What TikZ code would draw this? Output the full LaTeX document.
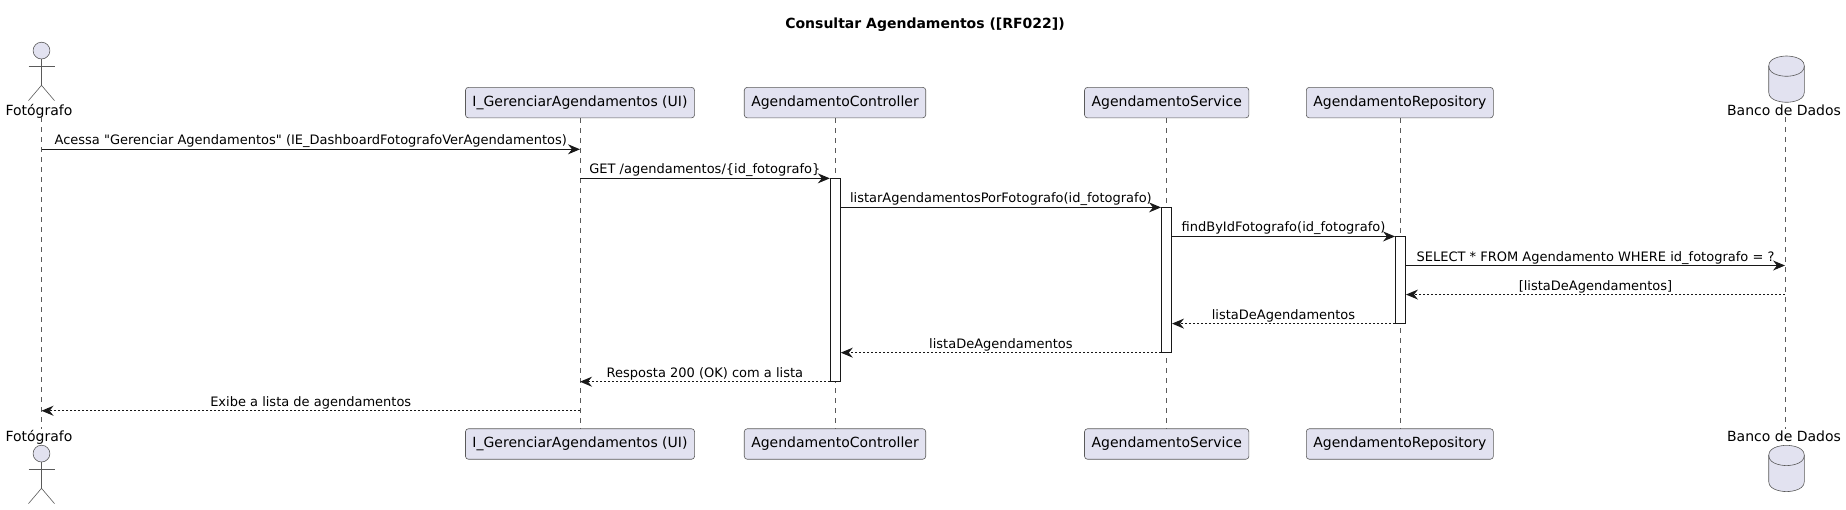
\documentclass[tikz,border=0pt]{standalone}
\usepackage{fontspec}
\setmainfont[Ligatures=TeXOff]{DejaVu Sans}
\usepackage{tikz}
\usetikzlibrary{arrows.meta}
\definecolor{partfill}{HTML}{E2E2F0}
\definecolor{partline}{HTML}{181818}
\definecolor{lifegrey}{HTML}{5A5A5A}
\tikzset{
  partbox/.style={draw=lifegrey,fill=partfill,line width=0.6pt,rounded corners=3pt,inner xsep=7pt,inner ysep=0pt,minimum height=30.5pt},
  figlabel/.style={inner sep=0pt,anchor=base},
  figline/.style={draw=lifegrey,line width=0.6pt},
  lifeln/.style={draw=lifegrey,line width=0.5pt,dash pattern=on 5pt off 5pt},
  actbar/.style={draw=partline,fill=white,line width=1pt,minimum width=10pt,inner sep=0pt},
  msgcall/.style={draw=partline,line width=1pt,-{Stealth[length=12pt,width=10pt,inset=4pt]}},
  msgback/.style={draw=partline,line width=1pt,dash pattern=on 2pt off 2pt,-{Stealth[length=12pt,width=10pt,inset=4pt]}},
  msgtext/.style={midway,anchor=base,yshift=4.5pt,inner sep=0pt,font=\fontsize{13}{16}\selectfont}
}
\newcommand{\actorfig}[2]{
  \draw[figline,fill=partfill] (#1,#2+8.3) circle (8.4pt);
  \draw[figline] (#1,#2+16.6) -- (#1,#2+43);
  \draw[figline] (#1-13,#2+24) -- (#1+13,#2+24);
  \draw[figline] (#1-13,#2+58.3) -- (#1,#2+43) -- (#1+13,#2+58.3);
}
\newcommand{\dbfig}[2]{
  \draw[figline,fill=partfill] (#1-17.8,#2+10) .. controls (#1-17.8,#2) and (#1,#2) .. (#1,#2) .. controls (#1,#2) and (#1+17.8,#2) .. (#1+17.8,#2+10)
    -- (#1+17.8,#2+36.3) .. controls (#1+17.8,#2+46.3) and (#1,#2+46.3) .. (#1,#2+46.3) .. controls (#1,#2+46.3) and (#1-17.8,#2+46.3) .. (#1-17.8,#2+36.3) -- cycle;
  \draw[figline] (#1-17.8,#2+10) .. controls (#1-17.8,#2+20.3) and (#1,#2+20.3) .. (#1,#2+20.3) .. controls (#1,#2+20.3) and (#1+17.8,#2+20.3) .. (#1+17.8,#2+10);
}
\begin{document}
\begin{tikzpicture}[x=1pt,y=-1pt,font=\fontsize{14}{17}\selectfont]
        \useasboundingbox (0,0) rectangle (1846,509);
        \node[font=\fontsize{14}{17}\selectfont\bfseries] (title) at (925,24.2) {Consultar Agendamentos ([RF022])};
        %actor and database figures
        \actorfig{41.5}{42.3}
        \actorfig{41.5}{445.3}
        \dbfig{1786.5}{56}
        \dbfig{1786.5}{445.3}
        %participants, top row
        \node[figlabel] (fotTop) at (39,115) {Fotógrafo};
        \node[partbox] (guiTop) at (580,102.6) {I\_GerenciarAgendamentos (UI)};
        \node[partbox] (ctrlTop) at (835,102.6) {AgendamentoController};
        \node[partbox] (servTop) at (1166.7,102.6) {AgendamentoService};
        \node[partbox] (repoTop) at (1399.8,102.6) {AgendamentoRepository};
        \node[figlabel] (dbTop) at (1784,115) {Banco de Dados};
        %participants, bottom row
        \node[figlabel] (fotBot) at (39,441.7) {Fotógrafo};
        \node[partbox] (guiBot) at (580,444) {I\_GerenciarAgendamentos (UI)};
        \node[partbox] (ctrlBot) at (835,444) {AgendamentoController};
        \node[partbox] (servBot) at (1166.7,444) {AgendamentoService};
        \node[partbox] (repoBot) at (1399.8,444) {AgendamentoRepository};
        \node[figlabel] (dbBot) at (1784,441.7) {Banco de Dados};
        %lifelines
        \coordinate (fotA) at (41.5,117);
        \coordinate (fotB) at (41.5,428.5);
        \coordinate (dbA) at (1785,117);
        \coordinate (dbB) at (1785,428.5);
        \draw[lifeln] (fotA) -- (fotB);
        \draw[lifeln] (guiTop) -- (guiBot);
        \draw[lifeln] (ctrlTop) -- (ctrlBot);
        \draw[lifeln] (servTop) -- (servBot);
        \draw[lifeln] (repoTop) -- (repoBot);
        \draw[lifeln] (dbA) -- (dbB);
        %activations
        \node[actbar,minimum height=203.3pt] (ctrlAct) at (835.3,280) {};
        \node[actbar,minimum height=145.3pt] (servAct) at (1166.5,280) {};
        \node[actbar,minimum height=87.2pt] (repoAct) at (1400.5,280) {};
        %message rows
        \coordinate (r1) at (0,149.3);
        \coordinate (r2) at (0,178.35);
        \coordinate (r3) at (0,207.4);
        \coordinate (r4) at (0,236.45);
        \coordinate (r5) at (0,265.5);
        \coordinate (r6) at (0,294.55);
        \coordinate (r7) at (0,323.6);
        \coordinate (r8) at (0,352.65);
        \coordinate (r9) at (0,381.7);
        \coordinate (r10) at (0,410.75);
        %messages
        \draw[msgcall] (fotA |- r1) -- (guiTop |- r1) node[msgtext] (m1) {Acessa "Gerenciar Agendamentos" (IE\_DashboardFotografoVerAgendamentos)};
        \draw[msgcall] (guiTop |- r2) -- (ctrlAct.west |- r2) node[msgtext] (m2) {GET /agendamentos/\{id\_fotografo\}};
        \draw[msgcall] (ctrlAct.east |- r3) -- (servAct.west |- r3) node[msgtext] (m3) {listarAgendamentosPorFotografo(id\_fotografo)};
        \draw[msgcall] (servAct.east |- r4) -- (repoAct.west |- r4) node[msgtext] (m4) {findByIdFotografo(id\_fotografo)};
        \draw[msgcall] (repoAct.east |- r5) -- (dbA |- r5) node[msgtext] (m5) {SELECT * FROM Agendamento WHERE id\_fotografo = ?};
        \draw[msgback] (dbA |- r6) -- (repoAct.east |- r6) node[msgtext] (m6) {[listaDeAgendamentos]};
        \draw[msgback] (repoAct.west |- r7) -- (servAct.east |- r7) node[msgtext] (m7) {listaDeAgendamentos};
        \draw[msgback] (servAct.west |- r8) -- (ctrlAct.east |- r8) node[msgtext] (m8) {listaDeAgendamentos};
        \draw[msgback] (ctrlAct.west |- r9) -- (guiTop |- r9) node[msgtext] (m9) {Resposta 200 (OK) com a lista};
        \draw[msgback] (guiTop |- r10) -- (fotA |- r10) node[msgtext] (m10) {Exibe a lista de agendamentos};
\end{tikzpicture}
\end{document}
